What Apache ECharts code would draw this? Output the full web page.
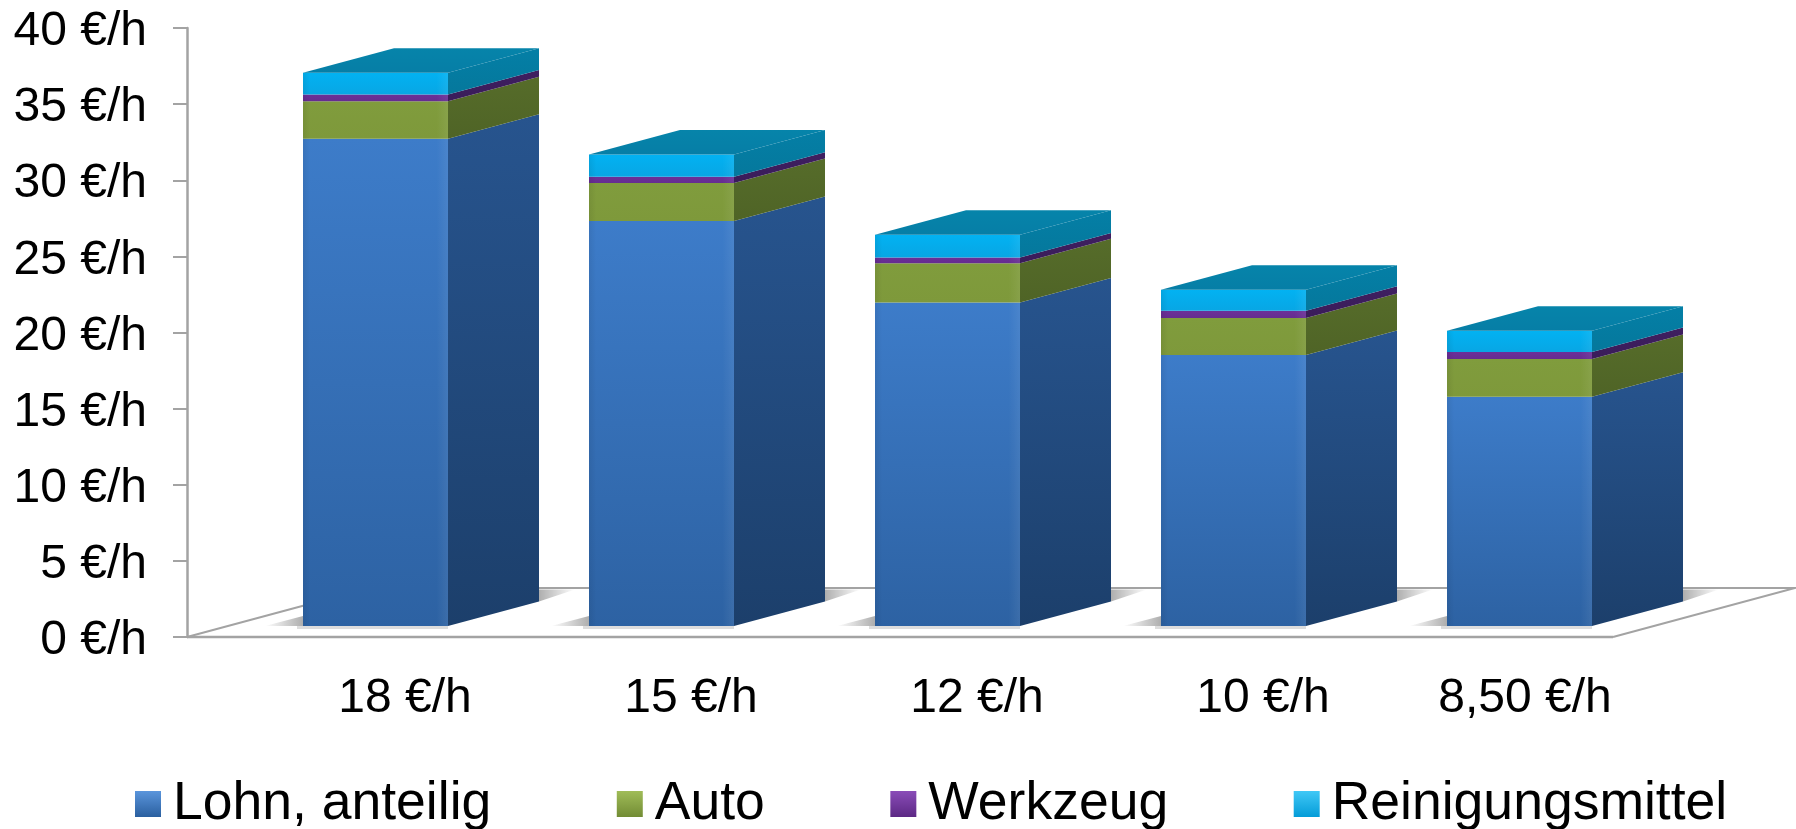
<!DOCTYPE html>
<html><head><meta charset="utf-8">
<style>html,body{margin:0;padding:0;background:#fff}#c{width:1796px;height:829px;filter:blur(0.6px)}</style>
<script src="https://cdn.jsdelivr.net/npm/echarts@6/dist/echarts.min.js"></script>
</head><body><div id="c"></div>
<script>
const categories = ['18 €/h','15 €/h','12 €/h','10 €/h','8,50 €/h'];
const lohn = [32.0, 26.6, 21.25, 17.8, 15.05];
const auto = [2.47, 2.5, 2.58, 2.43, 2.48];
const werkzeug = [0.44, 0.4, 0.37, 0.47, 0.46];
const reinigung = [1.43, 1.47, 1.49, 1.38, 1.4];
const seriesNames = ['Lohn, anteilig','Auto','Werkzeug','Reinigungsmittel'];
const layers = [lohn, auto, werkzeug, reinigung];

const G = echarts.graphic;
const V = (a,b)=>new G.LinearGradient(0,0,0,1,[{offset:0,color:a},{offset:1,color:b}]);
const H = (stops)=>new G.LinearGradient(0,0,1,0,stops);
const styles = [
 {front:['#3d7cc9','#2d62a3'], side:['#27548e','#1c3f6b'], icon:['#5a95dc','#2a5f9f']},
 {front:['#809c3d','#7e993b'], side:['#566c2a','#4f6426'], icon:['#a0bc58','#728c34']},
 {front:['#6c2f98','#652c90'], side:['#3f1f60','#3a1c5a'], icon:['#8a4cb8','#5c2884']},
 {front:['#02b2f2','#08a6e4'], side:['#047fa6','#05789c'], icon:['#40c8f6','#049cd8']}
];
const barW=145, depthX=91, depthY=24.5, liftX=45.5, liftY=11;

function layerItem(s){
 return function(params,api){
  const base=api.coord([api.value(0),api.value(1)]);
  const top=api.coord([api.value(0),api.value(2)]);
  const l=base[0]-barW/2+liftX, r=l+barW;
  const y0=base[1]-liftY, y1=top[1]-liftY;
  const kids=[
   {type:'polygon',shape:{points:[[r,y0],[r+depthX,y0-depthY],[r+depthX,y1-depthY],[r,y1]]},style:{fill:V(s.side[0],s.side[1])}},
   {type:'rect',shape:{x:l,y:y1,width:barW,height:y0-y1},style:{fill:V(s.front[0],s.front[1])}},
   {type:'rect',shape:{x:l,y:y1,width:barW,height:y0-y1},style:{fill:H([{offset:0,color:'rgba(0,0,0,0.07)'},{offset:0.05,color:'rgba(0,0,0,0)'},{offset:0.92,color:'rgba(255,255,255,0)'},{offset:1,color:'rgba(255,255,255,0.07)'}])}}
  ];
  if(params.seriesIndex===4){
   kids.push({type:'polygon',shape:{points:[[l,y1],[l+depthX,y1-depthY],[r+depthX,y1-depthY],[r,y1]]},
     style:{fill:V('#0684aa','#067ea6')}});
  }
  return {type:'group',children:kids};
 };
}

function floorItem(params,api){
 const o=api.coord([api.value(0),0]);
 const cs=params.coordSys;
 const x0=cs.x,x1=cs.x+cs.width-4,y=cs.y+cs.height, dX=182,dY=49;
 const l=o[0]-barW/2+liftX, r=l+barW, y0=o[1]-liftY;
 const kids=[];
 const line='#a3a3a3';
 if(params.dataIndex===0){
  kids.push({type:'polyline',shape:{points:[[x0,y],[x0+dX,y-dY],[x1+dX,y-dY],[x1,y]]},style:{fill:null,stroke:line,lineWidth:2}});
  kids.push({type:'line',shape:{x1:x0,y1:y,x2:x1,y2:y},style:{stroke:'#a3a3a3',lineWidth:2.5}});
 }
 kids.push({type:'polygon',shape:{points:[[l-38,y0],[l,y0-10],[l,y0]]},style:{fill:H([{offset:0,color:'rgba(120,120,120,0)'},{offset:1,color:'rgba(120,120,120,0.6)'}])}});
 kids.push({type:'polygon',shape:{points:[[r+depthX,y0-depthY-12],[r+depthX+36,y0-depthY-12],[r+depthX,y0-depthY]]},style:{fill:H([{offset:0,color:'rgba(120,120,120,0.6)'},{offset:1,color:'rgba(120,120,120,0)'}])}});
 kids.push({type:'rect',shape:{x:l-6,y:y0,width:barW+6,height:3},style:{fill:'rgba(120,120,120,0.25)'}});
 return {type:'group',children:kids};
}

const series=[{type:'custom',name:'floor',silent:true,clip:false,z:1,renderItem:floorItem,
  encode:{x:0,y:1},data:categories.map((c,i)=>[i,0])}];
const running=categories.map(()=>0);
layers.forEach((vals,k)=>{
 const data=vals.map((v,i)=>{const b=running[i];running[i]+=v;return [i,b,running[i]];});
 series.push({type:'custom',name:seriesNames[k],clip:false,z:2,renderItem:layerItem(styles[k]),
   itemStyle:{color:styles[k].front[0]},encode:{x:0,y:[1,2]},data});
});

const font='"Liberation Sans", Arial, sans-serif';
const chart=echarts.init(document.getElementById('c'),null,{renderer:'canvas'});
chart.setOption({
 animation:false,
 grid:{left:187,top:28,width:1430,height:609,containLabel:false},
 legend:{
  left:130,top:772,itemWidth:26,itemHeight:26,itemGap:125.5,icon:'rect',selectedMode:false,
  textStyle:{fontFamily:font,fontSize:53.5,color:'#000',padding:[6,0,0,7]},
  data:seriesNames.map((n,k)=>({name:n,itemStyle:{color:V(styles[k].icon[0],styles[k].icon[1])}}))
 },
 xAxis:{type:'category',data:categories,
  axisLine:{show:false},axisTick:{show:false},
  axisLabel:{interval:0,margin:38,fontFamily:font,fontSize:48,color:'#000',
   formatter:(v,i)=> i===categories.length-1 ? '{l|'+v+'}' : '{n|'+v+'}',
   rich:{n:{fontFamily:font,fontSize:48,color:'#000',padding:[0,0,0,150]},
         l:{fontFamily:font,fontSize:48,color:'#000',padding:[0,0,0,102]}}}
 },
 yAxis:{type:'value',min:0,max:40,interval:5,splitLine:{show:false},
  axisLine:{show:true,lineStyle:{color:'#a3a3a3',width:2.5}},
  axisTick:{show:true,length:14,lineStyle:{color:'#a3a3a3',width:2}},
  axisLabel:{margin:40,fontFamily:font,fontSize:48,color:'#000',
   formatter:(v)=>'{a|'+v+' €/h}',
   rich:{a:{fontFamily:font,fontSize:48,color:'#000',padding:[8,0,0,0]}}}
 },
 series
});
</script></body></html>
